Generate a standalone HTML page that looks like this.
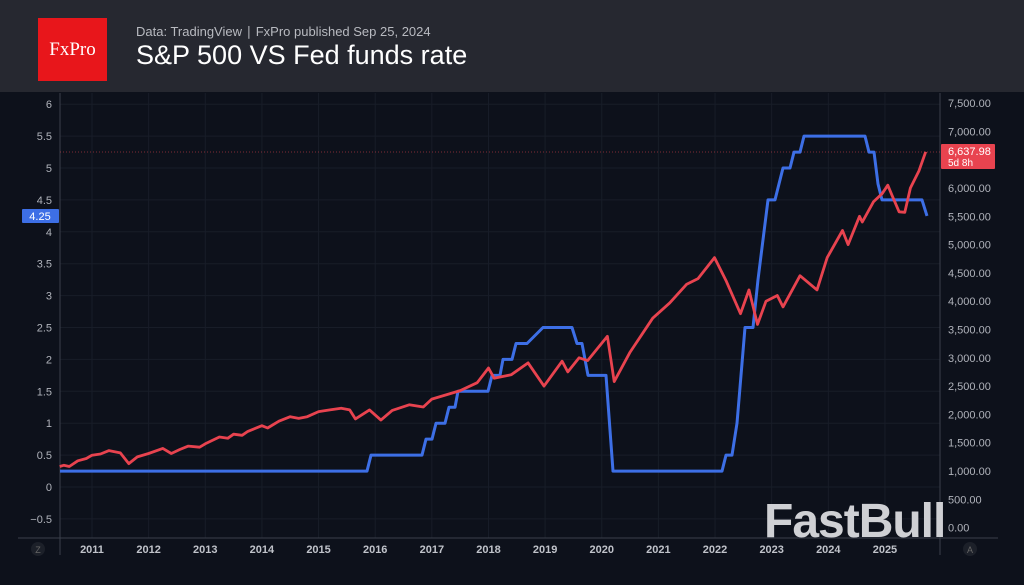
<!DOCTYPE html>
<html><head><meta charset="utf-8"><style>
body{margin:0;width:1024px;height:585px;overflow:hidden;background:#0d111b;font-family:"Liberation Sans",sans-serif}
#hdr{position:absolute;left:0;top:0;width:1024px;height:92px;background:#262830}
#logo{position:absolute;left:38px;top:18px;width:69px;height:63px;background:#e8161b;color:#fff;font-family:"Liberation Serif",serif;font-size:19px;line-height:63px;text-align:center}
#sub{position:absolute;left:136px;top:24px;color:#b8bac0;font-size:13px}
#ttl{position:absolute;left:136px;top:40px;color:#fff;font-size:27px}
svg{position:absolute;left:0;top:0}
</style></head><body>
<div id="hdr"><div id="logo">FxPro</div><div id="sub">Data: TradingView ∣ FxPro published Sep 25, 2024</div><div id="ttl">S&amp;P 500 VS Fed funds rate</div></div>
<svg width="1024" height="585" id="s" font-family="Liberation Sans, sans-serif"></svg>
<script>
const s=document.getElementById('s');let h='';
const yl=v=>487-v*63.8, yr=v=>471-(v-1000)*0.0566, xt=t=>92+(t-2011)*56.64;
for(let v=-0.5;v<=6;v+=0.5){h+=`<line x1="60" x2="940" y1="${yl(v)}" y2="${yl(v)}" stroke="#181d28" stroke-width="1"/>`;
h+=`<text x="52" y="${yl(v)+4}" fill="#b0b3bb" font-size="11" text-anchor="end">${v==0?'0':(v<0?'−0.5':v)}</text>`;}
for(let y=2011;y<=2025;y++){h+=`<line x1="${xt(y)}" x2="${xt(y)}" y1="93" y2="538" stroke="#181d28"/>`;
h+=`<text x="${xt(y)}" y="553" fill="#c0c3ca" font-size="11" font-weight="bold" text-anchor="middle">${y}</text>`;}
for(let v=0;v<=7500;v+=500){h+=`<text x="948" y="${yr(v)+4}" fill="#b0b3bb" font-size="11">${v.toLocaleString('en-US')}.00</text>`;}
h+=`<line x1="60" x2="60" y1="93" y2="555" stroke="#3a3f4b"/><line x1="940" x2="940" y1="93" y2="555" stroke="#3a3f4b"/><line x1="18" x2="998" y1="538" y2="538" stroke="#3a3f4b"/>`;
h+=`<line x1="60" x2="940" y1="152" y2="152" stroke="#e8434f" stroke-width="0.8" stroke-dasharray="1 2" opacity="0.7"/>`;
h+=`<circle cx="38" cy="549" r="7" fill="#1c2029"/><text x="38" y="553" fill="#666" font-size="9" text-anchor="middle">Z</text>`;
h+=`<circle cx="970" cy="549" r="7" fill="#1c2029"/><text x="970" y="553" fill="#666" font-size="9" text-anchor="middle">A</text>`;
const b=[[60,.25],[367,.25],[371,.5],[422,.5],[426,.75],[432,.75],[436,1],[445,1],[449,1.25],[455,1.25],[458,1.5],[488,1.5],[492,1.75],[500,1.75],[503,2],[512,2],[516,2.25],[527,2.25],[543,2.5],[572,2.5],[577,2.25],[582,2.25],[588,1.75],[606,1.75],[613,.25],[722,.25],[726,.5],[732,.5],[737,1],[741,1.75],[745,2.5],[753,2.5],[758,3.25],[764,4],[768,4.5],[775,4.5],[779,4.75],[783,5],[790,5],[794,5.25],[800,5.25],[804,5.5],[865,5.5],[869,5.25],[874,5.25],[878,4.75],[882,4.5],[922,4.5],[927,4.25]];
h+=`<polyline fill="none" stroke="#3d6fe6" stroke-width="3" stroke-linejoin="round" points="${b.map(p=>p[0]+','+yl(p[1]).toFixed(1)).join(' ')}"/>`;
const r=[[2010.43,1080],[2010.5,1100],[2010.6,1080],[2010.75,1180],[2010.9,1220],[2011.0,1280],[2011.15,1300],[2011.3,1360],[2011.5,1320],[2011.65,1130],[2011.8,1250],[2012.0,1310],[2012.25,1400],[2012.4,1310],[2012.55,1380],[2012.7,1440],[2012.9,1420],[2013.0,1480],[2013.25,1600],[2013.4,1580],[2013.5,1650],[2013.65,1630],[2013.75,1700],[2014.0,1800],[2014.1,1760],[2014.3,1880],[2014.5,1960],[2014.65,1930],[2014.8,1960],[2015.0,2050],[2015.2,2080],[2015.4,2110],[2015.55,2080],[2015.65,1920],[2015.9,2080],[2016.1,1900],[2016.3,2070],[2016.6,2170],[2016.85,2130],[2017.0,2270],[2017.5,2420],[2017.8,2560],[2018.0,2820],[2018.1,2640],[2018.4,2700],[2018.7,2910],[2018.98,2500],[2019.3,2940],[2019.4,2750],[2019.6,3000],[2019.75,2950],[2020.1,3380],[2020.22,2580],[2020.5,3100],[2020.7,3400],[2020.9,3700],[2021.2,3970],[2021.5,4300],[2021.7,4400],[2021.99,4770],[2022.2,4350],[2022.45,3780],[2022.6,4200],[2022.75,3590],[2022.9,4000],[2023.1,4100],[2023.2,3900],[2023.5,4450],[2023.8,4200],[2023.98,4770],[2024.25,5250],[2024.35,5000],[2024.55,5500],[2024.6,5400],[2024.8,5760],[2024.95,5900],[2025.05,6050],[2025.12,5880],[2025.25,5580],[2025.35,5570],[2025.45,6000],[2025.6,6300],[2025.72,6640]];
h+=`<polyline fill="none" stroke="#e8434f" stroke-width="2.8" stroke-linejoin="round" points="${r.map(p=>xt(p[0]).toFixed(1)+','+yr(p[1]).toFixed(1)).join(' ')}"/>`;
h+=`<rect x="22" y="209" width="37" height="14" fill="#3d6fe6" rx="1"/><text x="40" y="220" fill="#fff" font-size="11" text-anchor="middle">4.25</text>`;
h+=`<rect x="941" y="144" width="54" height="25" fill="#e8434f" rx="1"/><text x="948" y="155" fill="#fff" font-size="11">6,637.98</text><text x="948" y="166" fill="#fff" font-size="10">5d 8h</text>`;
h+=`<text x="764" y="537" fill="#cfd0d4" font-size="48" font-weight="bold" letter-spacing="-1">FastBull</text>`;
s.innerHTML=h;
</script>
</body></html>
